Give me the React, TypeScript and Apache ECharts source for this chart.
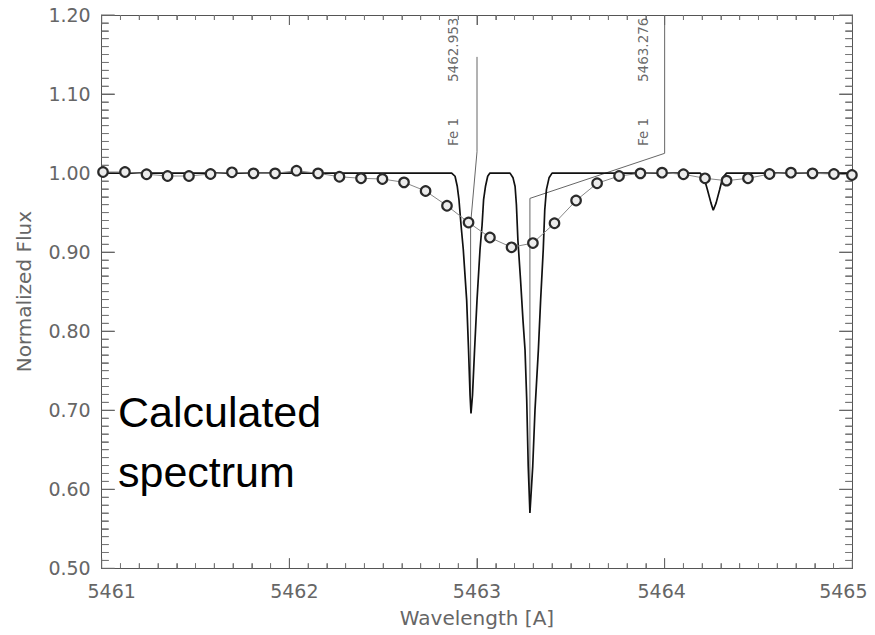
import React, { useEffect, useRef } from "react";
import * as echarts from "echarts";

// Observed spectrum (circles)
const obsWave = [
  5461.007, 5461.124, 5461.239, 5461.351, 5461.465, 5461.58, 5461.694, 5461.809, 5461.924,
  5462.038, 5462.153, 5462.267, 5462.382, 5462.496, 5462.611, 5462.726, 5462.84, 5462.955,
  5463.069, 5463.184, 5463.298, 5463.413, 5463.528, 5463.64, 5463.757, 5463.871, 5463.986,
  5464.1, 5464.215, 5464.33, 5464.444, 5464.559, 5464.673, 5464.788, 5464.902, 5464.998,
];
const obsFlux = [
  1.0014, 1.0014, 0.9985, 0.9963, 0.9963, 0.9988, 1.001, 0.9997, 0.9997,
  1.003, 0.9997, 0.9954, 0.9934, 0.9925, 0.9883, 0.9773, 0.9587, 0.9375,
  0.9185, 0.9061, 0.9115, 0.9365, 0.9653, 0.9871, 0.9963, 0.9997, 1.0005,
  0.9985, 0.9934, 0.9904, 0.9934, 0.9988, 1.0005, 0.9997, 0.9988, 0.9976,
];

// Calculated spectrum (solid line)
const calcWave = [
  5461.0, 5462.865, 5462.883, 5462.895, 5462.904, 5462.915, 5462.927, 5462.945, 5462.955,
  5462.963, 5462.968, 5462.976, 5462.987, 5463.0, 5463.016, 5463.027, 5463.035, 5463.045,
  5463.057, 5463.069, 5463.176, 5463.192, 5463.203, 5463.21, 5463.218, 5463.232, 5463.245,
  5463.256, 5463.265, 5463.273, 5463.282, 5463.297, 5463.309, 5463.327, 5463.339, 5463.353,
  5463.361, 5463.37, 5463.384, 5463.4, 5464.189, 5464.21, 5464.228, 5464.247, 5464.259,
  5464.274, 5464.293, 5464.309, 5464.33, 5465.0,
];
const calcFlux = [
  1.0, 1.0, 0.996, 0.983, 0.966, 0.934, 0.903, 0.839, 0.776,
  0.719, 0.696, 0.719, 0.776, 0.839, 0.903, 0.934, 0.966, 0.983,
  0.996, 1.0, 1.0, 0.994, 0.983, 0.96, 0.915, 0.865, 0.814,
  0.776, 0.713, 0.629, 0.57, 0.629, 0.7, 0.776, 0.839, 0.903,
  0.953, 0.979, 0.994, 1.0, 1.0, 0.994, 0.979, 0.962, 0.953,
  0.962, 0.979, 0.994, 1.0, 1.0,
];

// Line identification markers
const marker1Wave = [5463.0, 5463.0, 5462.966, 5462.966];
const marker1Flux = [1.147, 1.027, 0.936, 0.705];
const marker2Wave = [5464.0, 5464.0, 5463.282, 5463.282];
const marker2Flux = [1.2, 1.025, 0.968, 0.575];
const idWave = ["5462.953", "5463.276"];
const idSpecies = ["Fe 1", "Fe 1"];
const idLabelWave = [5462.874, 5463.883];
const idNumFlux = 1.156;
const idSpeciesFlux = 1.052;

// Axes
const xTicks = [5461, 5462, 5463, 5464, 5465];
const yTicks = [0.5, 0.6, 0.7, 0.8, 0.9, 1.0, 1.1, 1.2];
const yTickLabels = ["0.50", "0.60", "0.70", "0.80", "0.90", "1.00", "1.10", "1.20"];
const xLabelShift = [10, 5, 0, -3, -9];
const minorPerMajor = 10;

const FONT = "DejaVu Sans";

function axisStyle(major: number, minor: number) {
  return {
    axisLine: { show: true, onZero: false, lineStyle: { color: "#555", width: 1 } },
    axisTick: { show: true, inside: true, length: major, lineStyle: { color: "#666", width: 1 } },
    minorTick: { show: true, splitNumber: minorPerMajor, length: minor, lineStyle: { color: "#777", width: 1 } },
    splitLine: { show: false },
  };
}

export default function App() {
  const ref = useRef<HTMLDivElement>(null);
  useEffect(() => {
    if (!ref.current) return;
    const chart = echarts.init(ref.current, undefined, { renderer: "svg" });
    const zip = (a: number[], b: number[]) => a.map((v, i) => [v, b[i]]);
    const xMin = xTicks[0];
    const xMax = xTicks[xTicks.length - 1];
    const yMin = yTicks[0];
    const yMax = yTicks[yTicks.length - 1];

    // tick items: [value, kind] kind 0 = x major, 1 = x minor, 2 = y major, 3 = y minor
    const tickItems: number[][] = [];
    xTicks.forEach((t, i) => {
      tickItems.push([t, 0]);
      if (i < xTicks.length - 1) {
        const step = (xTicks[i + 1] - t) / minorPerMajor;
        for (let k = 1; k < minorPerMajor; k++) tickItems.push([t + k * step, 1]);
      }
    });
    yTicks.forEach((t, i) => {
      tickItems.push([t, 2]);
      if (i < yTicks.length - 1) {
        const step = (yTicks[i + 1] - t) / minorPerMajor;
        for (let k = 1; k < minorPerMajor; k++) tickItems.push([t + k * step, 3]);
      }
    });

    const rich: Record<string, any> = {};
    xLabelShift.forEach((s, i) => {
      rich["t" + i] = {
        fontFamily: FONT,
        fontSize: 19,
        color: "#666",
        padding: s >= 0 ? [0, 0, 0, 2 * s] : [0, -2 * s, 0, 0],
      };
    });
    const xRange = { type: "value", min: xMin, max: xMax, interval: 1 };
    const yRange = { type: "value", min: yMin, max: yMax, interval: 0.1 };
    const idData = [
      ...idLabelWave.map((w, i) => ({ value: [w, idNumFlux], label: { formatter: idWave[i] } })),
      ...idLabelWave.map((w, i) => ({ value: [w, idSpeciesFlux], label: { formatter: idSpecies[i] } })),
    ];
    chart.setOption({
      animation: false,
      backgroundColor: "#fff",
      grid: { left: 101.7, right: 22.7, top: 15, bottom: 66.7 },
      xAxis: [
        {
          ...xRange,
          ...axisStyle(10, 5),
          position: "bottom",
          name: "Wavelength [A]",
          nameLocation: "middle",
          nameGap: 40,
          nameTextStyle: { fontFamily: FONT, fontSize: 20, color: "#666" },
          axisLabel: {
            show: true,
            margin: 13,
            fontFamily: FONT,
            fontSize: 19,
            color: "#666",
            showMinLabel: true,
            showMaxLabel: true,
            formatter: (v: number) => {
              const i = xTicks.indexOf(Math.round(v));
              return `{t${i}|${Math.round(v)}}`;
            },
            rich,
          },
        },
        { ...xRange, ...axisStyle(10, 5), position: "top", axisLabel: { show: false } },
      ],
      yAxis: [
        {
          ...yRange,
          ...axisStyle(13, 7),
          position: "left",
          name: "Normalized Flux",
          nameLocation: "middle",
          nameGap: 68,
          nameTextStyle: { fontFamily: FONT, fontSize: 20, color: "#666" },
          axisLabel: {
            show: true,
            margin: 11,
            fontFamily: FONT,
            fontSize: 19,
            color: "#666",
            padding: [5, 0, 0, 0],
            formatter: (v: number) => yTickLabels[Math.round((v - yMin) * 10)] ?? v.toFixed(2),
          },
        },
        { ...yRange, ...axisStyle(13, 7), position: "right", axisLabel: { show: false } },
      ],
      series: [
        {
          type: "custom",
          name: "frameTicks",
          data: tickItems,
          silent: true,
          clip: false,
          z: 0,
          renderItem: (_p: any, api: any) => {
            const v = api.value(0);
            const kind = api.value(1);
            const major = kind === 0 || kind === 2;
            const style = { stroke: major ? "#666" : "#777", lineWidth: 1 };
            if (kind < 2) {
              const b = api.coord([v, yMin]);
              const t = api.coord([v, yMax]);
              const L = major ? 10 : 5;
              return {
                type: "group",
                children: [
                  { type: "line", shape: { x1: b[0], y1: b[1], x2: b[0], y2: b[1] - L }, style },
                  { type: "line", shape: { x1: t[0], y1: t[1], x2: t[0], y2: t[1] + L }, style },
                ],
              };
            }
            const l = api.coord([xMin, v]);
            const r = api.coord([xMax, v]);
            const L = major ? 13 : 7;
            return {
              type: "group",
              children: [
                { type: "line", shape: { x1: l[0], y1: l[1], x2: l[0] + L, y2: l[1] }, style },
                { type: "line", shape: { x1: r[0], y1: r[1], x2: r[0] - L, y2: r[1] }, style },
              ],
            };
          },
        },
        {
          type: "line",
          name: "marker1",
          data: zip(marker1Wave, marker1Flux),
          symbol: "none",
          lineStyle: { color: "#666", width: 1 },
          z: 1,
        },
        {
          type: "line",
          name: "marker2",
          data: zip(marker2Wave, marker2Flux),
          symbol: "none",
          lineStyle: { color: "#666", width: 1 },
          z: 1,
        },
        {
          type: "line",
          name: "Calculated",
          data: zip(calcWave, calcFlux),
          symbol: "none",
          lineStyle: { color: "#111", width: 1.7 },
          z: 2,
        },
        {
          type: "line",
          name: "Observed",
          data: zip(obsWave, obsFlux),
          symbol: "circle",
          symbolSize: 9.5,
          showAllSymbol: true,
          lineStyle: { color: "#888", width: 1 },
          itemStyle: { color: "#ececec", borderColor: "#2a2a2a", borderWidth: 2.2 },
          z: 3,
        },
        {
          type: "scatter",
          name: "ids",
          data: idData,
          symbolSize: 0,
          label: {
            show: true,
            position: "inside",
            rotate: 90,
            fontFamily: FONT,
            fontSize: 13.5,
            color: "#444",
          },
          z: 4,
        },
      ],
      graphic: [
        {
          type: "text",
          left: 118,
          top: 382,
          style: {
            text: "Calculated\nspectrum",
            font: "43px 'Liberation Sans'",
            fill: "#000",
            lineHeight: 60,
          },
          z: 10,
        },
      ],
    });
    return () => chart.dispose();
  }, []);
  return (
    <div
      ref={ref}
      style={{ position: "absolute", left: 0, top: 0, width: 875, height: 635, background: "#fff" }}
    />
  );
}
